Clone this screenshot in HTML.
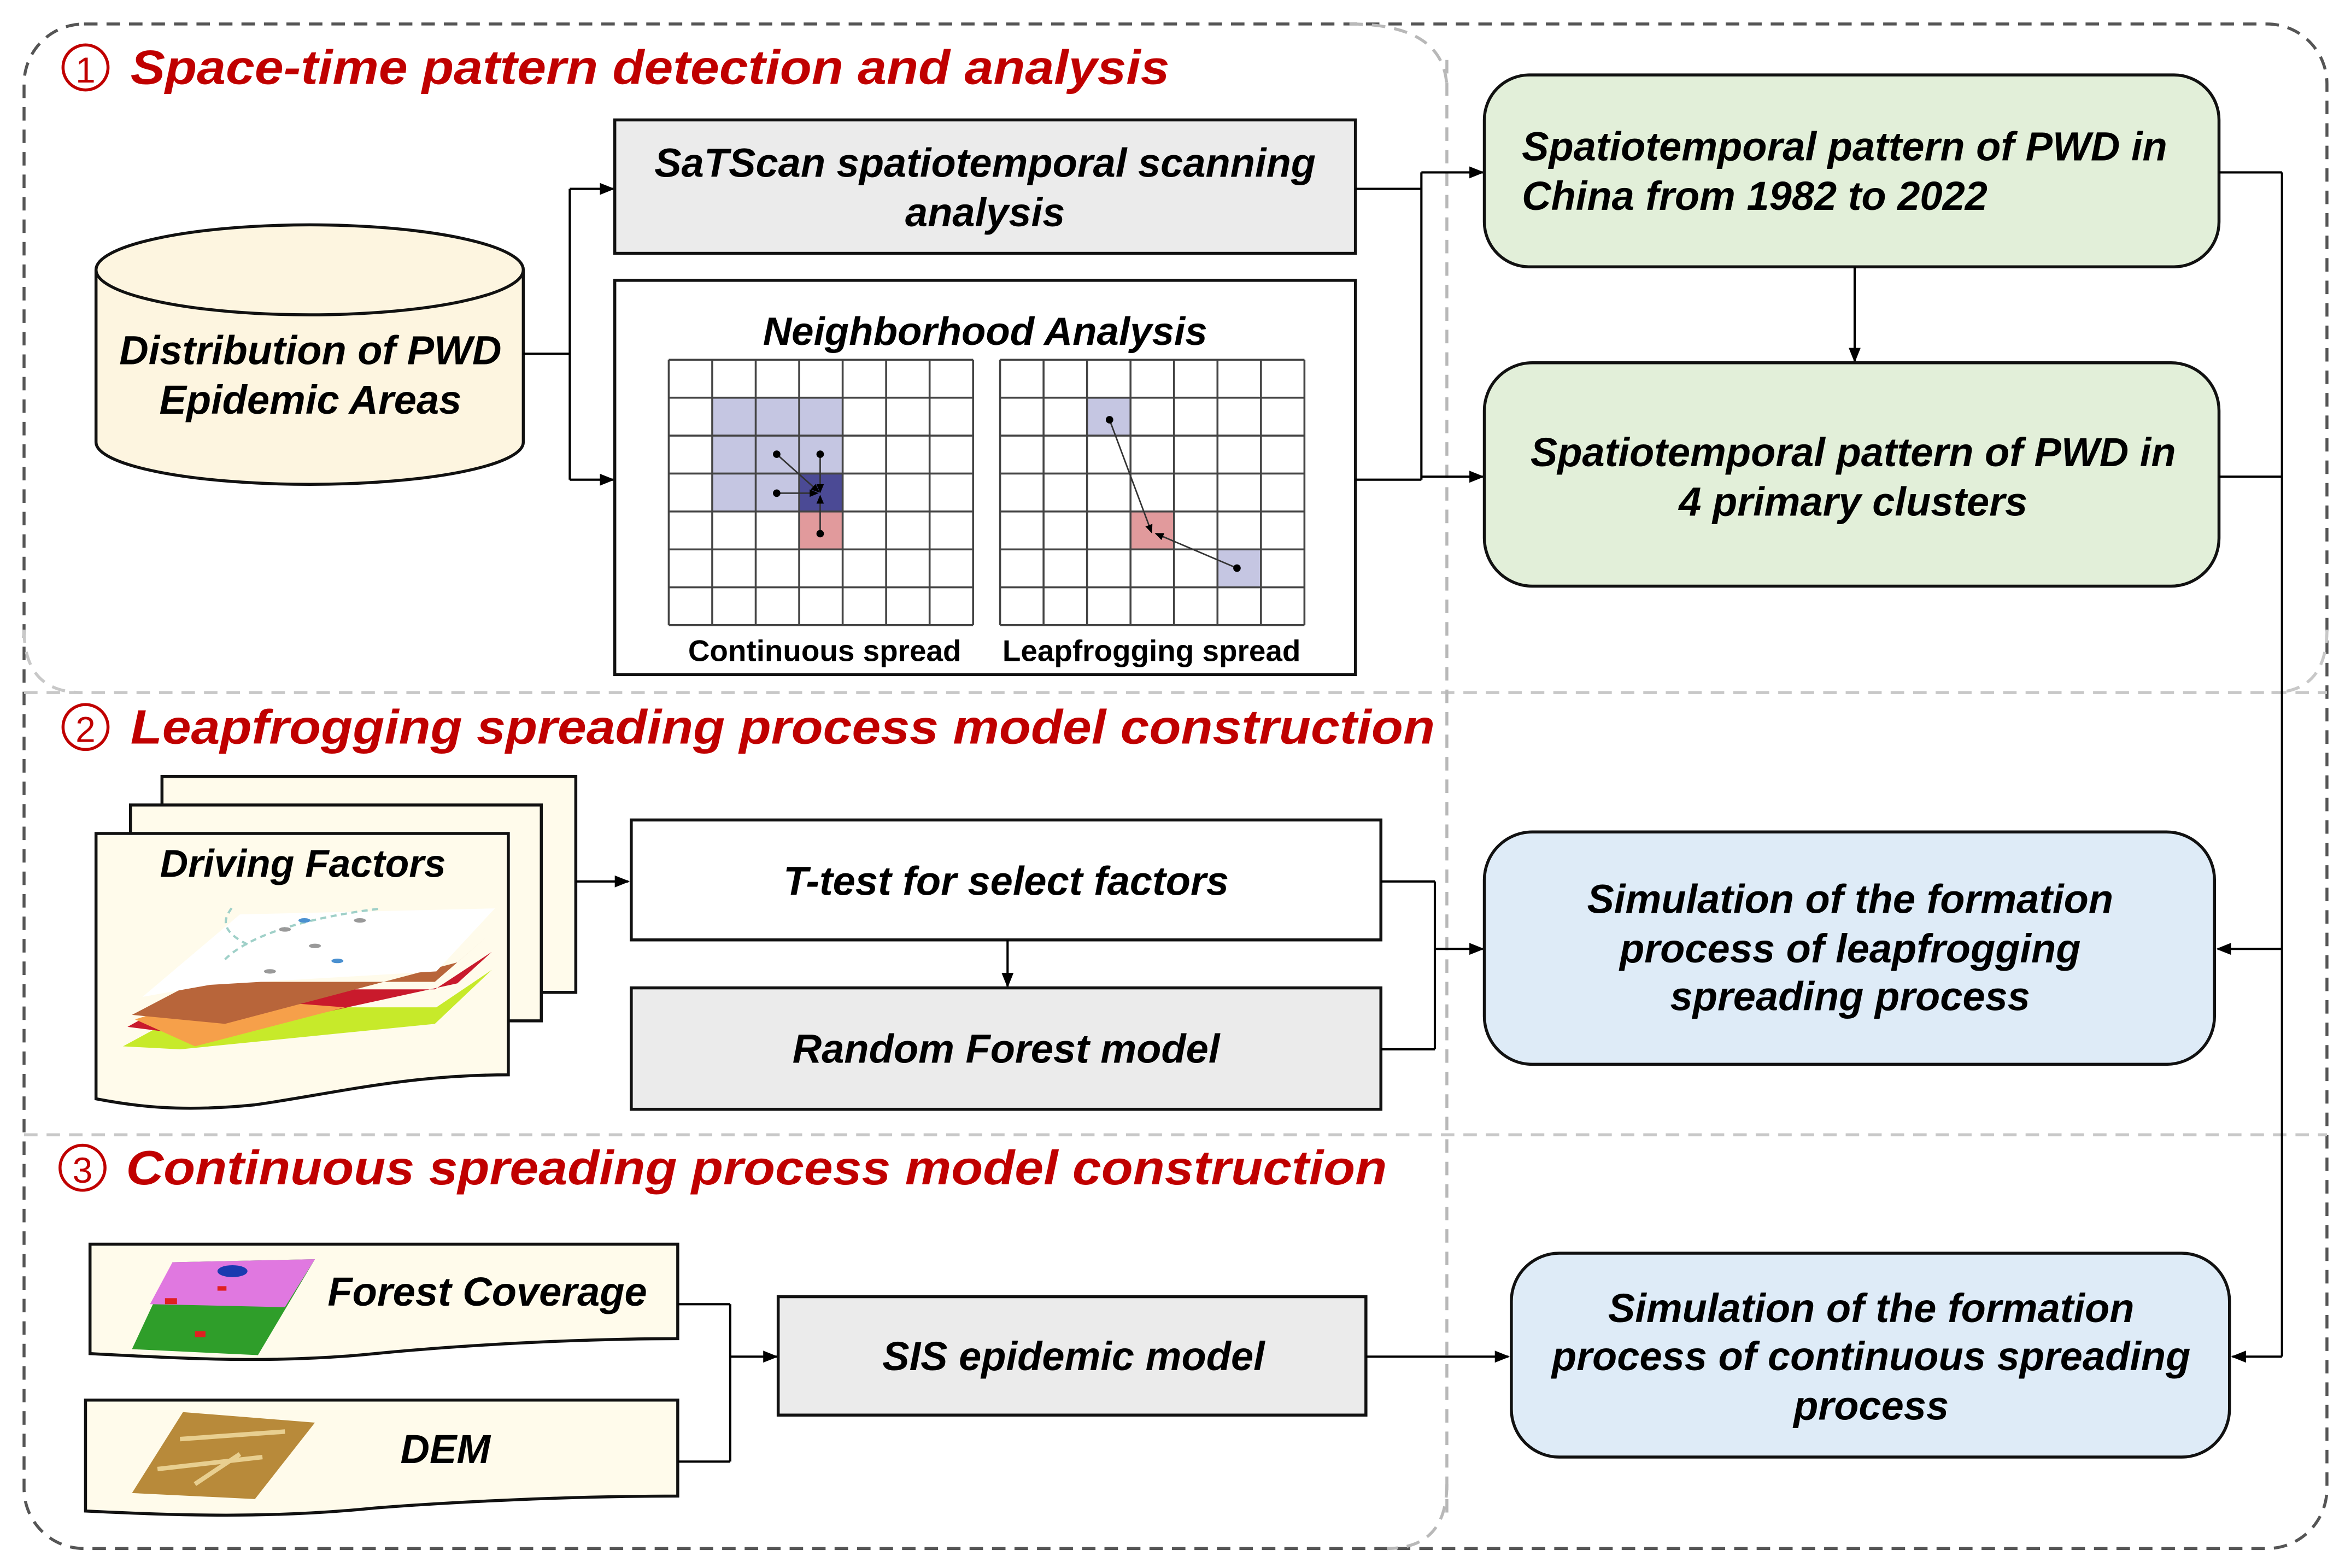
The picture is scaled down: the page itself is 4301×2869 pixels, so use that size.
<!DOCTYPE html>
<html><head><meta charset="utf-8"><style>
html,body{margin:0;padding:0;background:#fff;}
svg{display:block;}
text{font-family:"Liberation Sans",Arial,sans-serif;font-weight:bold;font-style:italic;}
text.n{font-style:normal;}
</style></head><body>
<svg width="4301" height="2869" viewBox="0 0 1568 1046" xmlns="http://www.w3.org/2000/svg">
<defs>
<marker id="a" markerWidth="10" markerHeight="10" refX="9" refY="5" orient="auto" markerUnits="userSpaceOnUse"><path d="M0,1 L10,5 L0,9 z" fill="#000"/></marker>
<marker id="s" markerWidth="6" markerHeight="6" refX="5" refY="3" orient="auto" markerUnits="userSpaceOnUse"><path d="M0,0.5 L6,3 L0,5.5 z" fill="#000"/></marker>
</defs>
<rect x="16" y="16" width="1536" height="1017" rx="40" fill="none" stroke="#555" stroke-width="2" stroke-dasharray="9,6"/>
<path d="M16,462 H1552 M16,757 H1552" stroke="#c8c8c8" stroke-width="2" stroke-dasharray="9,6"/>
<path d="M965,40 V1010" stroke="#b8b8b8" stroke-width="2" stroke-dasharray="9,6"/>
<path d="M900,16 Q965,16 965,60" fill="none" stroke="#b8b8b8" stroke-width="2" stroke-dasharray="9,6"/>
<path d="M965,990 Q965,1033 925,1033" fill="none" stroke="#b8b8b8" stroke-width="2" stroke-dasharray="9,6"/>
<path d="M1552,420 Q1552,462 1515,462" fill="none" stroke="#c8c8c8" stroke-width="2" stroke-dasharray="9,6"/>
<path d="M16,420 Q16,462 55,462" fill="none" stroke="#c8c8c8" stroke-width="2" stroke-dasharray="9,6"/>

<circle cx="57" cy="45" r="15" fill="none" stroke="#c00000" stroke-width="2"/>
<text class="n" x="57" y="55" font-size="24" fill="#c00000" text-anchor="middle" style="font-style:normal;font-weight:normal">1</text>
<text x="87" y="56" font-size="32" fill="#c00000" textLength="693" lengthAdjust="spacingAndGlyphs">Space-time pattern detection and analysis</text>
<circle cx="57" cy="485" r="15" fill="none" stroke="#c00000" stroke-width="2"/>
<text x="57" y="495" font-size="24" fill="#c00000" text-anchor="middle" style="font-style:normal;font-weight:normal">2</text>
<text x="87" y="496" font-size="32" fill="#c00000" textLength="870" lengthAdjust="spacingAndGlyphs">Leapfrogging spreading process model construction</text>
<circle cx="55" cy="779" r="15" fill="none" stroke="#c00000" stroke-width="2"/>
<text x="55" y="789" font-size="24" fill="#c00000" text-anchor="middle" style="font-style:normal;font-weight:normal">3</text>
<text x="84" y="790" font-size="32" fill="#c00000" textLength="841" lengthAdjust="spacingAndGlyphs">Continuous  spreading process model construction</text>

<path d="M64,180 V295 A142,28 0 0 0 349,295 V180" fill="#fdf5e0" stroke="#111" stroke-width="2"/>
<ellipse cx="206.5" cy="180" rx="142.5" ry="30" fill="#fdf5e0" stroke="#111" stroke-width="2"/>
<text x="207" y="243" font-size="27" text-anchor="middle">Distribution of PWD</text>
<text x="207" y="276" font-size="27" text-anchor="middle">Epidemic Areas</text>

<path d="M349,236 H380 M380,126 V320" stroke="#000" stroke-width="1.5" fill="none"/>
<path d="M380,126 H409" stroke="#000" stroke-width="1.5" marker-end="url(#a)"/>
<path d="M380,320 H409" stroke="#000" stroke-width="1.5" marker-end="url(#a)"/>

<rect x="410" y="80" width="494" height="89" fill="#ebebeb" stroke="#111" stroke-width="2"/>
<text x="657" y="118" font-size="27" text-anchor="middle">SaTScan spatiotemporal scanning</text>
<text x="657" y="151" font-size="27" text-anchor="middle">analysis</text>

<rect x="410" y="187" width="494" height="263" fill="#fff" stroke="#111" stroke-width="2"/>
<text x="657" y="230" font-size="26.5" text-anchor="middle">Neighborhood Analysis</text>

<rect x="475" y="265.3" width="87" height="75.9" fill="#c5c6e2"/>
<rect x="533" y="315.9" width="29" height="25.3" fill="#4b4a95"/>
<rect x="533" y="341.2" width="29" height="25.3" fill="#e19a9c"/>
<rect x="725" y="265.3" width="29" height="25.3" fill="#c5c6e2"/>
<rect x="754" y="341.2" width="29" height="25.3" fill="#e19a9c"/>
<rect x="812" y="366.5" width="29" height="25.3" fill="#c5c6e2"/>
<g stroke="#444" stroke-width="1.3" fill="none">
<path d="M446,240 H649 M446,265.3 H649 M446,290.6 H649 M446,315.9 H649 M446,341.2 H649 M446,366.5 H649 M446,391.8 H649 M446,417 H649"/>
<path d="M446,240 V417 M475,240 V417 M504,240 V417 M533,240 V417 M562,240 V417 M591,240 V417 M620,240 V417 M649,240 V417"/>
<path d="M667,240 H870 M667,265.3 H870 M667,290.6 H870 M667,315.9 H870 M667,341.2 H870 M667,366.5 H870 M667,391.8 H870 M667,417 H870"/>
<path d="M667,240 V417 M696,240 V417 M725,240 V417 M754,240 V417 M783,240 V417 M812,240 V417 M841,240 V417 M870,240 V417"/>
</g>
<g stroke="#333" stroke-width="1">
<path d="M518,303 L546,328" marker-end="url(#s)"/>
<path d="M547,303 L547,328" marker-end="url(#s)"/>
<path d="M518,329 L545,329" marker-end="url(#s)"/>
<path d="M547,356 L547,331" marker-end="url(#s)"/>
<path d="M740,280 L768,355" marker-end="url(#s)"/>
<path d="M825,379 L771,356" marker-end="url(#s)"/>
</g>
<g fill="#000"><circle cx="518" cy="303" r="2.5"/><circle cx="547" cy="303" r="2.5"/><circle cx="518" cy="329" r="2.5"/><circle cx="547" cy="356" r="2.5"/><circle cx="740" cy="280" r="2.5"/><circle cx="825" cy="379" r="2.5"/></g>
<text x="550" y="441" font-size="20" text-anchor="middle" style="font-style:normal">Continuous spread</text>
<text x="768" y="441" font-size="20" text-anchor="middle" style="font-style:normal">Leapfrogging spread</text>

<path d="M904,126 H948 M904,320 H948 M948,115 V320" stroke="#000" stroke-width="1.5" fill="none"/>
<path d="M948,115 H989" stroke="#000" stroke-width="1.5" marker-end="url(#a)"/>
<path d="M948,318 H989" stroke="#000" stroke-width="1.5" marker-end="url(#a)"/>

<rect x="990" y="50" width="490" height="128" rx="30" fill="#e2efd9" stroke="#111" stroke-width="2"/>
<text x="1015" y="107" font-size="27">Spatiotemporal pattern of PWD in</text>
<text x="1015" y="140" font-size="27">China from 1982 to 2022</text>
<path d="M1237,178 V241" stroke="#000" stroke-width="1.5" marker-end="url(#a)"/>
<rect x="990" y="242" width="490" height="149" rx="32" fill="#e2efd9" stroke="#111" stroke-width="2"/>
<text x="1236" y="311" font-size="27" text-anchor="middle">Spatiotemporal pattern of PWD in</text>
<text x="1236" y="344" font-size="27" text-anchor="middle">4 primary clusters</text>

<path d="M1480,115 H1522 M1480,318 H1522 M1522,115 V905" stroke="#000" stroke-width="1.5" fill="none"/>
<path d="M1522,633 H1479" stroke="#000" stroke-width="1.5" marker-end="url(#a)"/>
<path d="M1522,905 H1489" stroke="#000" stroke-width="1.5" marker-end="url(#a)"/>

<rect x="108" y="518" width="276" height="144" fill="#fffbeb" stroke="#111" stroke-width="2"/>
<rect x="87" y="537" width="274" height="144" fill="#fffbeb" stroke="#111" stroke-width="2"/>
<path d="M64,556 H339 V717 C270,717 220,730 170,737 C120,742 90,738 64,733 Z" fill="#fffbeb" stroke="#111" stroke-width="2"/>
<text x="202" y="585" font-size="26" text-anchor="middle">Driving Factors</text>
<polygon points="82,698 130,672 291,672 328,647 290,683 120,700" fill="#c7ea2a"/>
<polygon points="85,685 130,660 290,660 328,635 305,656 140,692" fill="#c91a2c"/>
<polygon points="90,680 140,665 230,672 130,698" fill="#f6a04a"/>
<polygon points="88,677 130,655 290,655 328,622 305,642 150,683" fill="#b8653a"/>
<polygon points="95,665 160,610 330,606 291,648 140,657" fill="#fff"/>
<path d="M150,640 C170,620 220,610 255,606 M165,630 C145,620 150,612 155,605" stroke="#9fd0c8" stroke-width="1.5" stroke-dasharray="4,3" fill="none"/>
<g fill="#999"><ellipse cx="190" cy="620" rx="4" ry="1.5"/><ellipse cx="240" cy="614" rx="4" ry="1.5"/><ellipse cx="210" cy="631" rx="4" ry="1.5"/><ellipse cx="180" cy="648" rx="4" ry="1.5"/></g>
<g fill="#4a90d0"><ellipse cx="203" cy="614" rx="4" ry="1.5"/><ellipse cx="225" cy="641" rx="4" ry="1.5"/></g>

<path d="M384,588 H419" stroke="#000" stroke-width="1.5" marker-end="url(#a)"/>
<rect x="421" y="547" width="500" height="80" fill="#fff" stroke="#111" stroke-width="2"/>
<text x="671" y="597" font-size="27" text-anchor="middle">T-test for select factors</text>
<path d="M672,627 V658" stroke="#000" stroke-width="1.5" marker-end="url(#a)"/>
<rect x="421" y="659" width="500" height="81" fill="#ebebeb" stroke="#111" stroke-width="2"/>
<text x="671" y="709" font-size="27" text-anchor="middle">Random Forest model</text>
<path d="M921,588 H957 M921,700 H957 M957,588 V700" stroke="#000" stroke-width="1.5" fill="none"/>
<path d="M957,633 H989" stroke="#000" stroke-width="1.5" marker-end="url(#a)"/>

<rect x="990" y="555" width="487" height="155" rx="32" fill="#deebf7" stroke="#111" stroke-width="2"/>
<text x="1234" y="609" font-size="27" text-anchor="middle">Simulation of the formation</text>
<text x="1234" y="642" font-size="27" text-anchor="middle">process of leapfrogging</text>
<text x="1234" y="674" font-size="27" text-anchor="middle">spreading process</text>

<path d="M60,830 H452 V893 C380,893 300,898 250,903 C180,910 120,906 60,903 Z" fill="#fffbeb" stroke="#111" stroke-width="2"/>
<polygon points="115,842 210,840 172,904 88,900" fill="#2f9e2a"/>
<polygon points="115,842 210,840 190,872 100,870" fill="#e078e0"/>
<ellipse cx="155" cy="848" rx="10" ry="4" fill="#1a3ab0"/>
<g fill="#e02020"><rect x="110" y="866" width="8" height="4"/><rect x="145" y="858" width="6" height="3"/><rect x="130" y="888" width="7" height="4"/></g>
<text x="325" y="871" font-size="27" text-anchor="middle">Forest Coverage</text>
<path d="M57,934 H452 V998 C380,998 300,1002 250,1006 C180,1013 120,1011 57,1008 Z" fill="#fffbeb" stroke="#111" stroke-width="2"/>
<polygon points="122,942 210,949 170,1000 88,996" fill="#b88a3a"/>
<path d="M120,960 L190,955 M105,980 L175,972 M130,990 L160,970" stroke="#e8cf90" stroke-width="3"/>
<text x="297" y="976" font-size="27" text-anchor="middle">DEM</text>
<path d="M452,870 H487 M452,975 H487 M487,870 V975" stroke="#000" stroke-width="1.5" fill="none"/>
<path d="M487,905 H518" stroke="#000" stroke-width="1.5" marker-end="url(#a)"/>
<rect x="519" y="865" width="392" height="79" fill="#ebebeb" stroke="#111" stroke-width="2"/>
<text x="716" y="914" font-size="27" text-anchor="middle">SIS epidemic model</text>
<path d="M911,905 H1006" stroke="#000" stroke-width="1.5" marker-end="url(#a)"/>
<rect x="1008" y="836" width="479" height="136" rx="32" fill="#deebf7" stroke="#111" stroke-width="2"/>
<text x="1248" y="882" font-size="27" text-anchor="middle">Simulation of the formation</text>
<text x="1248" y="914" font-size="27" text-anchor="middle">process of continuous spreading</text>
<text x="1248" y="947" font-size="27" text-anchor="middle">process</text>
</svg>
</body></html>
